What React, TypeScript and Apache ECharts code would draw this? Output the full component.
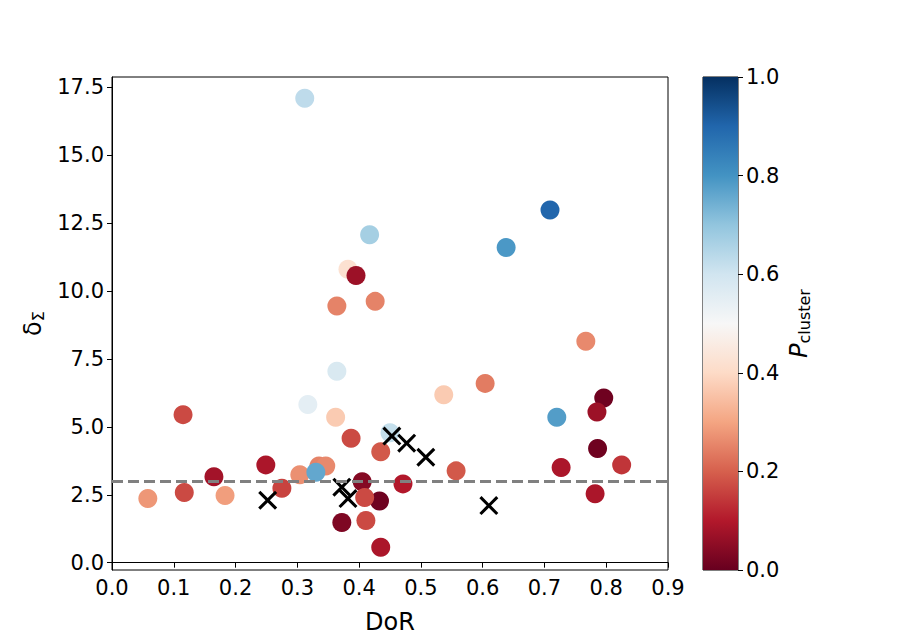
import React, { useEffect, useRef } from "react";
import * as echarts from "echarts";

const dor = [0.312, 0.709, 0.417, 0.638, 0.382, 0.395, 0.364, 0.426, 0.767, 0.364, 0.317, 0.362, 0.537, 0.604, 0.720, 0.796, 0.785, 0.115, 0.387, 0.450, 0.435, 0.786, 0.249, 0.557, 0.727, 0.825, 0.165, 0.304, 0.335, 0.346, 0.330, 0.275, 0.405, 0.433, 0.409, 0.372, 0.411, 0.435, 0.471, 0.058, 0.117, 0.183, 0.782];
const delta = [17.10, 12.98, 12.07, 11.60, 10.80, 10.57, 9.45, 9.62, 8.15, 7.05, 5.82, 5.35, 6.18, 6.60, 5.35, 6.06, 5.55, 5.45, 4.58, 4.78, 4.08, 4.20, 3.60, 3.38, 3.50, 3.60, 3.16, 3.24, 3.56, 3.56, 3.33, 2.74, 2.98, 2.27, 2.40, 1.48, 1.55, 0.57, 2.90, 2.36, 2.58, 2.47, 2.54];
const pcluster = [0.63, 0.90, 0.67, 0.79, 0.42, 0.07, 0.25, 0.25, 0.26, 0.58, 0.55, 0.37, 0.37, 0.24, 0.78, 0.01, 0.07, 0.17, 0.17, 0.62, 0.19, 0.01, 0.09, 0.19, 0.09, 0.14, 0.08, 0.27, 0.25, 0.26, 0.76, 0.16, 0.04, 0.01, 0.17, 0.03, 0.17, 0.09, 0.10, 0.28, 0.17, 0.29, 0.09];

const crossDor = [0.252, 0.372, 0.382, 0.453, 0.477, 0.508, 0.610];
const crossDelta = [2.30, 2.78, 2.36, 4.66, 4.40, 3.88, 2.10];

const threshold = 3;
const yTicks = [0, 2.5, 5, 7.5, 10, 12.5, 15, 17.5];

const RdBu = ["#67001f", "#b2182b", "#d6604d", "#f4a582", "#fddbc7", "#f7f7f7", "#d1e5f0", "#92c5de", "#4393c3", "#2166ac", "#053061"];

const FONT = "DejaVu Sans";
const TICK_FS = 21;
const NAME_FS = 24;
const crossPath = "path://M0,2.3L2.3,0L10,7.7L17.7,0L20,2.3L12.3,10L20,17.7L17.7,20L10,12.3L2.3,20L0,17.7L7.7,10Z";

export default function App() {
  const ref = useRef<HTMLDivElement>(null);
  useEffect(() => {
    const chart = echarts.init(ref.current!, null, { renderer: "svg" });
    const points = dor.map((x, i) => [x, delta[i], pcluster[i]]);
    const crosses = crossDor.map((x, i) => [x, crossDelta[i]]);
    const gradStops = RdBu.slice().reverse().map((c, i) => ({ offset: i / (RdBu.length - 1), color: c }));
    chart.setOption({
      animation: false,
      textStyle: { fontFamily: FONT },
      grid: [
        { left: 112, top: 77, width: 556, height: 493, show: true, borderColor: "#000", borderWidth: 1, backgroundColor: "transparent" },
        { left: 703, top: 77, width: 35, height: 493, show: true, borderColor: "#000", borderWidth: 1, backgroundColor: "transparent" },
      ],
      xAxis: [
        {
          gridIndex: 0, type: "value", min: 0, max: 0.9, interval: 0.1,
          name: "DoR", nameLocation: "middle", nameGap: 40,
          nameTextStyle: { fontSize: NAME_FS, color: "#000", fontFamily: FONT },
          axisLine: { show: true, lineStyle: { color: "#000", width: 1 } },
          axisTick: { show: true, length: 5, inside: false, lineStyle: { color: "#000" } },
          axisLabel: { fontSize: TICK_FS, color: "#000", margin: 7, formatter: (v: number) => v.toFixed(1), fontFamily: FONT },
          splitLine: { show: false },
        },
        { gridIndex: 1, type: "category", data: ["cb"], show: false },
      ],
      yAxis: [
        {
          gridIndex: 0, type: "value", min: -0.27, max: 17.88,
          name: "{d|δ}{s|Σ}", nameLocation: "middle", nameGap: 66, nameRotate: 90,
          nameTextStyle: {
            color: "#000",
            rich: {
              d: { fontSize: NAME_FS, fontFamily: FONT, color: "#000" },
              s: { fontSize: 16, fontFamily: FONT, color: "#000", padding: [10, 0, 0, 0] },
            },
          },
          axisLine: { show: true, lineStyle: { color: "#000", width: 1 } },
          axisTick: { show: true, length: 5, customValues: yTicks, lineStyle: { color: "#000" } },
          axisLabel: { fontSize: TICK_FS, color: "#000", margin: 8, customValues: yTicks, formatter: (v: number) => v.toFixed(1), fontFamily: FONT },
          splitLine: { show: false },
        },
        {
          gridIndex: 1, type: "value", min: 0, max: 1, interval: 0.2, position: "right",
          name: "{p|P}{s|cluster}", nameLocation: "middle", nameGap: 48, nameRotate: 90,
          nameTextStyle: {
            color: "#000",
            rich: {
              p: { fontSize: NAME_FS, fontFamily: FONT, fontStyle: "italic", color: "#000" },
              s: { fontSize: 16, fontFamily: FONT, color: "#000", padding: [10, 0, 0, 0] },
            },
          },
          axisLine: { show: false },
          axisTick: { show: true, length: 5, lineStyle: { color: "#000" } },
          axisLabel: { fontSize: TICK_FS, color: "#000", margin: 8, formatter: (v: number) => v.toFixed(1), fontFamily: FONT },
          splitLine: { show: false },
        },
      ],
      visualMap: {
        type: "continuous", show: false, dimension: 2, min: 0, max: 1, seriesIndex: 0,
        inRange: { color: RdBu },
      },
      series: [
        {
          type: "scatter", xAxisIndex: 0, yAxisIndex: 0, data: points,
          symbol: "circle", symbolSize: 19, itemStyle: { opacity: 1 }, z: 2,
          markLine: {
            silent: true, symbol: "none", label: { show: false },
            lineStyle: { color: "#808080", type: [11, 5], width: 3 },
            data: [{ yAxis: threshold }],
          },
        },
        {
          type: "scatter", xAxisIndex: 0, yAxisIndex: 0, data: crosses,
          symbol: crossPath, symbolSize: 19, itemStyle: { color: "#000", opacity: 1 }, z: 3,
        },
        {
          type: "bar", xAxisIndex: 1, yAxisIndex: 1, data: [1], barWidth: "100%", silent: true,
          itemStyle: { color: new echarts.graphic.LinearGradient(0, 0, 0, 1, gradStops) },
        },
      ],
    });
    return () => chart.dispose();
  }, []);
  return <div ref={ref} style={{ position: "fixed", left: 0, top: 0, width: 897, height: 641, background: "#fff" }} />;
}
